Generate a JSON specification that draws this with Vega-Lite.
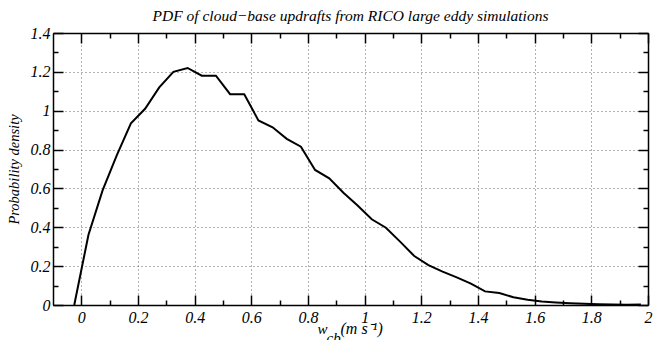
{
  "$schema": "https://vega.github.io/schema/vega-lite/v6.json",
  "width": 595,
  "height": 272,
  "autosize": {"type": "none"},
  "padding": {"left": 53, "top": 33, "right": 5, "bottom": 35},
  "background": "white",
  "title": {
    "text": "PDF of cloud−base updrafts from RICO large eddy simulations",
    "font": "'Liberation Serif', 'Times New Roman', serif",
    "fontStyle": "italic",
    "fontWeight": "normal",
    "fontSize": 15.5,
    "color": "black",
    "anchor": "middle",
    "baseline": "alphabetic",
    "offset": 10,
    "dy": 21
  },
  "data": {
    "values": [
      {"w": -0.025, "pdf": 0},
      {"w": 0.025, "pdf": 0.36},
      {"w": 0.075, "pdf": 0.59},
      {"w": 0.125, "pdf": 0.77},
      {"w": 0.175, "pdf": 0.935},
      {"w": 0.225, "pdf": 1.01},
      {"w": 0.275, "pdf": 1.12},
      {"w": 0.325, "pdf": 1.2},
      {"w": 0.375, "pdf": 1.22},
      {"w": 0.425, "pdf": 1.18},
      {"w": 0.475, "pdf": 1.18},
      {"w": 0.525, "pdf": 1.085},
      {"w": 0.575, "pdf": 1.085},
      {"w": 0.625, "pdf": 0.95},
      {"w": 0.675, "pdf": 0.915},
      {"w": 0.725, "pdf": 0.855},
      {"w": 0.775, "pdf": 0.815},
      {"w": 0.825, "pdf": 0.695},
      {"w": 0.875, "pdf": 0.652},
      {"w": 0.925, "pdf": 0.578},
      {"w": 0.975, "pdf": 0.512},
      {"w": 1.025, "pdf": 0.441},
      {"w": 1.075, "pdf": 0.398},
      {"w": 1.125, "pdf": 0.326},
      {"w": 1.175, "pdf": 0.252},
      {"w": 1.225, "pdf": 0.205},
      {"w": 1.275, "pdf": 0.172},
      {"w": 1.325, "pdf": 0.142},
      {"w": 1.375, "pdf": 0.11},
      {"w": 1.425, "pdf": 0.07},
      {"w": 1.475, "pdf": 0.062},
      {"w": 1.525, "pdf": 0.04},
      {"w": 1.575, "pdf": 0.027},
      {"w": 1.625, "pdf": 0.018},
      {"w": 1.675, "pdf": 0.013},
      {"w": 1.725, "pdf": 0.009},
      {"w": 1.775, "pdf": 0.006},
      {"w": 1.825, "pdf": 0.004},
      {"w": 1.875, "pdf": 0.002},
      {"w": 1.925, "pdf": 0.001},
      {"w": 1.975, "pdf": 0.003}
    ]
  },
  "config": {
    "view": {"stroke": null},
    "axis": {
      "labelFont": "'Liberation Serif', 'Times New Roman', serif",
      "labelFontStyle": "italic",
      "labelFontSize": 16,
      "labelColor": "black",
      "labelFlush": false,
      "labelOverlap": false,
      "titleFont": "'Liberation Serif', 'Times New Roman', serif",
      "titleFontStyle": "italic",
      "titleFontWeight": "normal",
      "titleFontSize": 15,
      "titleColor": "black",
      "domainColor": "black",
      "domainWidth": 1.5,
      "tickColor": "black",
      "tickWidth": 1.5,
      "gridColor": "#666666",
      "gridDash": [1, 3],
      "gridWidth": 1
    }
  },
  "layer": [
    {
      "mark": {"type": "line", "color": "black", "strokeWidth": 2, "clip": true},
      "encoding": {
        "x": {
          "field": "w",
          "type": "quantitative",
          "scale": {"domain": [-0.1, 2], "nice": false, "zero": false},
          "axis": {
            "orient": "bottom",
            "values": [0, 0.1, 0.2, 0.3, 0.4, 0.5, 0.6, 0.7, 0.8, 0.9, 1, 1.1, 1.2, 1.3, 1.4, 1.5, 1.6, 1.7, 1.8, 1.9, 2],
            "labelExpr": "abs(datum.value*5-round(datum.value*5))<0.001 ? format(datum.value,'~g') : ''",
            "tickSize": {"condition": {"test": "abs(datum.value*5-round(datum.value*5))<0.001", "value": -10}, "value": -5},
            "grid": true,
            "gridOpacity": {"condition": {"test": "abs(datum.value*5-round(datum.value*5))<0.001", "value": 1}, "value": 0},
            "labelPadding": 14,
            "title": "w",
            "titleAlign": "left",
            "titleBaseline": "alphabetic",
            "titleX": 264,
            "titleY": 28
          }
        },
        "y": {
          "field": "pdf",
          "type": "quantitative",
          "scale": {"domain": [0, 1.4], "nice": false},
          "axis": {
            "orient": "left",
            "values": [0, 0.1, 0.2, 0.3, 0.4, 0.5, 0.6, 0.7, 0.8, 0.9, 1, 1.1, 1.2, 1.3, 1.4],
            "labelExpr": "abs(datum.value*5-round(datum.value*5))<0.001 ? format(datum.value,'~g') : ''",
            "tickSize": {"condition": {"test": "abs(datum.value*5-round(datum.value*5))<0.001", "value": -10}, "value": -5},
            "grid": true,
            "gridOpacity": {"condition": {"test": "abs(datum.value*5-round(datum.value*5))<0.001", "value": 1}, "value": 0},
            "labelPadding": 13,
            "title": "Probability density",
            "titleFontSize": 14.5,
            "titleAngle": -90,
            "titleAlign": "center",
            "titleBaseline": "middle",
            "titleX": -39,
            "titleY": 136
          }
        }
      }
    },
    {
      "mark": {"type": "line", "opacity": 0},
      "encoding": {
        "x": {
          "field": "w",
          "type": "quantitative",
          "scale": {"domain": [-0.1, 2], "nice": false, "zero": false},
          "axis": {
            "orient": "top",
            "values": [0, 0.1, 0.2, 0.3, 0.4, 0.5, 0.6, 0.7, 0.8, 0.9, 1, 1.1, 1.2, 1.3, 1.4, 1.5, 1.6, 1.7, 1.8, 1.9, 2],
            "labels": false,
            "grid": false,
            "tickSize": {"condition": {"test": "abs(datum.value*5-round(datum.value*5))<0.001", "value": -10}, "value": -5},
            "title": "cb",
            "titleAlign": "left",
            "titleBaseline": "alphabetic",
            "titleX": 273,
            "titleY": 309
          }
        },
        "y": {
          "field": "pdf",
          "type": "quantitative",
          "scale": {"domain": [0, 1.4], "nice": false},
          "axis": {
            "orient": "right",
            "values": [0, 0.1, 0.2, 0.3, 0.4, 0.5, 0.6, 0.7, 0.8, 0.9, 1, 1.1, 1.2, 1.3, 1.4],
            "labels": false,
            "grid": false,
            "tickSize": {"condition": {"test": "abs(datum.value*5-round(datum.value*5))<0.001", "value": -10}, "value": -5},
            "title": "(m s⁻¹)",
            "titleFontSize": 16,
            "titleAngle": 0,
            "titleAlign": "left",
            "titleBaseline": "alphabetic",
            "titleX": -308,
            "titleY": 300
          }
        }
      }
    }
  ],
  "resolve": {"axis": {"x": "independent", "y": "independent"}}
}
